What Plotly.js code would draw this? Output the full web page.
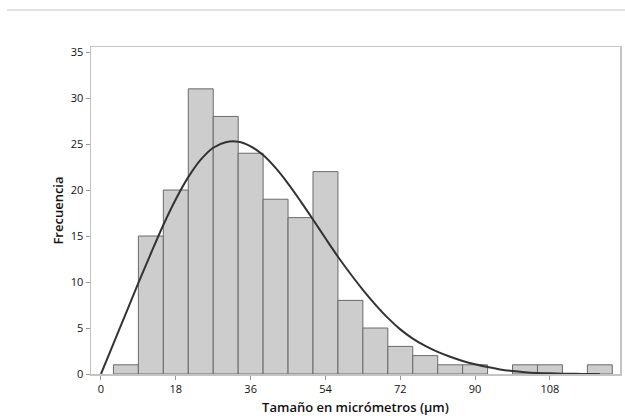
<!DOCTYPE html>
<html>
<head>
<meta charset="utf-8">
<script src="https://cdn.plot.ly/plotly-3.0.1.min.js"></script>
<style>html,body{margin:0;padding:0;background:#fff;}#chart{width:625px;height:419px;}</style>
</head>
<body>
<div id="chart"></div>
<script>
// Histogram bins (centres, width 6 µm) and counts
var binCenters = [6, 12, 18, 24, 30, 36, 42, 48, 54, 60, 66, 72, 78, 84, 90, 96, 102, 108, 114, 120];
var counts     = [1, 15, 20, 31, 28, 24, 19, 17, 22, 8, 5, 3, 2, 1, 1, 0, 1, 1, 0, 1];

// Fitted distribution curve
var curveX = [0, 3, 6, 9, 12, 15, 18, 21, 24, 27, 30, 33, 36, 39, 42, 45, 48, 51, 54, 57, 60, 63, 66, 69, 72, 75, 78, 81, 84, 87, 90, 93, 96, 99, 102, 105, 108, 111, 114, 117, 120];
var curveY = [0, 3.3, 6.6, 9.9, 13.1, 16.2, 19.0, 21.4, 23.3, 24.6, 25.2, 25.25, 24.75, 23.8, 22.4, 20.7, 18.8, 16.8, 14.75, 12.75, 10.9, 9.15, 7.55, 6.1, 4.85, 3.85, 3.05, 2.4, 1.87, 1.42, 1.05, 0.75, 0.5, 0.32, 0.2, 0.12, 0.07, 0.04, 0.02, 0.01, 0];

var xTicks = [0, 18, 36, 54, 72, 90, 108];
var yTicks = [0, 5, 10, 15, 20, 25, 30, 35];

var bx = [], by = [];
for (var i = 0; i < binCenters.length; i++) {
  if (counts[i] > 0) { bx.push(binCenters[i]); by.push(counts[i]); }
}

var traces = [
  {
    type: 'bar', x: bx, y: by, width: 6,
    marker: {color: '#cdcdcd', line: {color: '#6a6a6a', width: 1}},
    hoverinfo: 'skip', showlegend: false
  },
  {
    type: 'scatter', mode: 'lines', x: curveX, y: curveY,
    line: {color: '#333333', width: 2, shape: 'spline', smoothing: 1},
    hoverinfo: 'skip', showlegend: false
  }
];

var fontFam = '"Open Sans", "Noto Sans", sans-serif';
var layout = {
  width: 625, height: 419,
  margin: {l: 91, r: 5, t: 47, b: 45, pad: 0},
  paper_bgcolor: '#ffffff', plot_bgcolor: '#ffffff',
  font: {family: fontFam, size: 11, color: '#111'},
  bargap: 0,
  xaxis: {
    range: [-2.4, 124.85], tickvals: xTicks, ticktext: xTicks.map(String),
    ticks: 'outside', ticklen: 4, tickcolor: '#999', tickwidth: 1,
    showgrid: false, zeroline: false,
    showline: true, linecolor: '#c4c4c4', linewidth: 1.5, mirror: true,
    tickfont: {family: fontFam, size: 11, color: '#111'},
    title: {text: 'Tamaño en micrómetros (μm)', font: {family: fontFam, size: 13, color: '#111', weight: 600}, standoff: 8}
  },
  yaxis: {
    range: [0, 35.55], tickvals: yTicks, ticktext: yTicks.map(String),
    ticks: 'outside', ticklen: 4, tickcolor: '#999', tickwidth: 1,
    showgrid: false, zeroline: false,
    showline: true, linecolor: '#c4c4c4', linewidth: 1.5, mirror: true,
    tickfont: {family: fontFam, size: 11, color: '#111'},
    title: {text: 'Frecuencia', font: {family: fontFam, size: 13, color: '#111', weight: 600}, standoff: 4}
  },
  shapes: [
    {type: 'line', xref: 'paper', yref: 'paper',
     x0: -84/529, x1: 5/529 + 1, y0: 1 + 37/327, y1: 1 + 37/327,
     line: {color: '#d8d8d8', width: 1.5}}
  ]
};

Plotly.newPlot('chart', traces, layout, {displayModeBar: false, staticPlot: true});
</script>
</body>
</html>
